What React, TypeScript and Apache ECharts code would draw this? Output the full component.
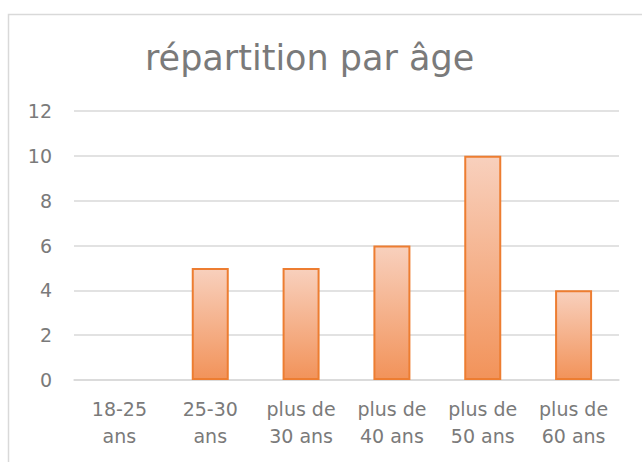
import React, { useEffect, useRef } from "react";
import * as echarts from "echarts";

const title = "répartition par âge";
const categories = ["18-25 ans", "25-30 ans", "plus de 30 ans", "plus de 40 ans", "plus de 50 ans", "plus de 60 ans"];
const values = [0, 5, 5, 6, 10, 4];
const yTicks = { min: 0, max: 12, interval: 2 };

const FONT = "DejaVu Sans";

export default function App() {
  const ref = useRef<HTMLDivElement>(null);
  useEffect(() => {
    if (!ref.current) return;
    const chart = echarts.init(ref.current, null, { renderer: "svg" });
    chart.setOption({
      animation: false,
      backgroundColor: "#ffffff",
      textStyle: { fontFamily: FONT },
      title: {
        text: title,
        left: 140,
        top: 35,
        textStyle: { fontFamily: FONT, fontSize: 35, fontWeight: "normal", color: "#7a7a7a" },
      },
      graphic: [
        {
          type: "rect",
          shape: { x: 8.5, y: 14.5, width: 700, height: 600 },
          style: { fill: "none", stroke: "#d9d9d9", lineWidth: 1.5 },
          silent: true,
        },
      ],
      grid: { left: 74, right: 23, top: 111, bottom: 82, containLabel: false },
      xAxis: {
        type: "category",
        data: categories,
        axisLine: { lineStyle: { color: "#d9d9d9", width: 1.5 } },
        axisTick: { show: false },
        axisLabel: {
          color: "#7a7a7a",
          fontFamily: FONT,
          fontSize: 19,
          lineHeight: 27,
          margin: 15,
          interval: 0,
          formatter: (v: string) => {
            const w = v.split(" ");
            const h = Math.ceil(w.length / 2);
            return w.slice(0, h).join(" ") + "\n" + w.slice(h).join(" ");
          },
        },
      },
      yAxis: {
        type: "value",
        min: yTicks.min,
        max: yTicks.max,
        interval: yTicks.interval,
        axisLine: { show: false },
        axisTick: { show: false },
        splitLine: { lineStyle: { color: "#d9d9d9", width: 1.5 } },
        axisLabel: { color: "#7a7a7a", fontFamily: FONT, fontSize: 19, margin: 22 },
      },
      series: [
        {
          type: "bar",
          data: values.map((v) => ({ value: v, itemStyle: v === 0 ? { borderWidth: 0 } : {} })),
          barWidth: 37,
          itemStyle: {
            color: new echarts.graphic.LinearGradient(0, 0, 0, 1, [
              { offset: 0, color: "#f8d0bd" },
              { offset: 1, color: "#f2935a" },
            ]),
            borderColor: "#ed7d31",
            borderWidth: 2,
          },
        },
      ],
    });
    return () => chart.dispose();
  }, []);
  return (
    <div
      ref={ref}
      style={{ position: "fixed", left: 0, top: 0, width: 642, height: 462 }}
    />
  );
}
